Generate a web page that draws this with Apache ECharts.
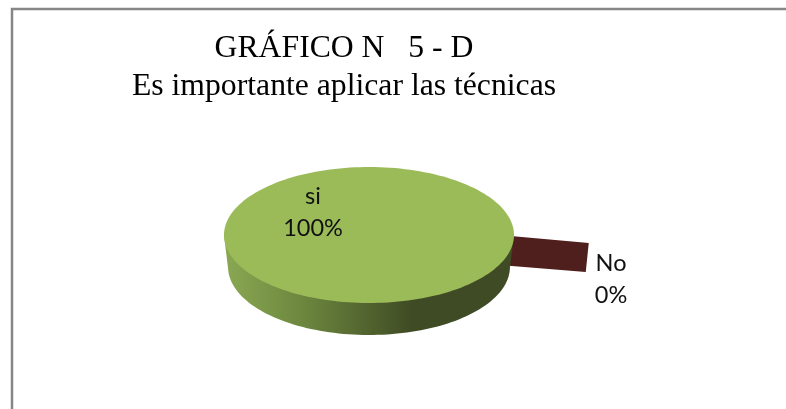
<!DOCTYPE html>
<html>
<head>
<meta charset="utf-8">
<title>Gráfico 5-D</title>
<script src="https://cdn.jsdelivr.net/npm/echarts@6/dist/echarts.min.js"></script>
<style>
  html, body { margin: 0; padding: 0; background: #fff; }
  #chart { width: 786px; height: 409px; }
</style>
</head>
<body>
<div id="chart"></div>
<script>
var titleLines = ['GRÁFICO N   5 - D', 'Es importante aplicar las técnicas']
var sliceNames = ['si', 'No']
var sliceValues = [100, 0]

var chart = echarts.init(document.getElementById('chart'), null, { renderer: 'canvas' })

// pie geometry, flattened to look 3D
var cx = 369
var cy = 235
var rx = 145
var ry = 68
var depth = 32
var bottomScale = 0.972 // far end of the wall is a bit narrower
var firstAngle = 4.4
var total = sliceValues.reduce(function(a, b) { return a + b }, 0)

function point(deg, r) {
  var t = deg * Math.PI / 180
  return [cx + rx * r * Math.cos(t), cy + ry * r * Math.sin(t)]
}

function label(i, x, y) {
  return {
    type: 'text',
    style: {
      x: x,
      y: y,
      text: sliceNames[i] + '\n' + Math.round(sliceValues[i] / total * 100) + '%',
      fill: '#111',
      font: '23.5px Lato',
      lineHeight: 32,
      align: 'center',
      verticalAlign: 'middle'
    }
  }
}

function renderSlice(params, api) {
  var i = api.value(1)
  var before = sliceValues.slice(0, i).reduce(function(a, b) { return a + b }, 0)
  var start = firstAngle + before / total * 360
  var sweep = api.value(0) / total * 360

  // zero share: only the wall of the pulled out slice can be seen
  if (sweep === 0) {
    var inner = point(start - 4.4, 0.9)
    var outer = point(start, 1.52)
    return {
      type: 'group',
      children: [
        {
          type: 'polygon',
          shape: {
            points: [
              inner,
              outer,
              [outer[0] - 3, outer[1] + depth - 3],
              [inner[0], inner[1] + depth - 2]
            ]
          },
          style: { fill: '#4f1f1e' }
        },
        label(i, 611, 279)
      ]
    }
  }

  var top = []
  var lower = []
  for (var a = 0; a <= 360; a += 2) {
    var d = start + sweep * a / 360
    var p = point(d, 1)
    top.push(p)
    if (Math.sin(d * Math.PI / 180) >= 0) {
      lower.push(p)
    }
  }
  lower.sort(function(p, q) { return q[0] - p[0] })
  var side = lower.map(function(p) {
    return [cx + (p[0] - cx) * bottomScale, p[1] + depth]
  })
  // wall runs from the rim on the right, under the pie, to the rim on the left
  side.unshift([cx + rx, cy])
  side.push([cx - rx, cy])

  return {
    type: 'group',
    children: [
      {
        type: 'polygon',
        shape: { points: side },
        style: {
          fill: new echarts.graphic.LinearGradient(0, 0, 1, 0, [
            { offset: 0, color: '#8aa853' },
            { offset: 0.25, color: '#6f8a40' },
            { offset: 0.65, color: '#3f4b24' },
            { offset: 1, color: '#3f4b24' }
          ])
        }
      },
      {
        type: 'polygon',
        shape: { points: top },
        style: { fill: '#9bbb59' }
      },
      label(i, 313, 212)
    ]
  }
}

// smallest share first, so the big slice paints over the wall of the small one
var drawOrder = sliceNames.map(function(n, i) { return i }).sort(function(a, b) {
  return sliceValues[a] - sliceValues[b]
})

chart.setOption({
  animation: false,
  backgroundColor: '#fff',
  title: {
    text: titleLines.join('\n'),
    left: 339,
    top: 25,
    textAlign: 'center',
    textStyle: {
      fontFamily: 'Liberation Serif',
      fontSize: 31.7,
      fontWeight: 'normal',
      color: '#000',
      lineHeight: 38
    }
  },
  graphic: [
    {
      type: 'polyline',
      silent: true,
      shape: { points: [[12, 409], [12, 9], [786, 9]] },
      style: { stroke: '#868686', lineWidth: 2.5, fill: null }
    }
  ],
  series: [
    {
      type: 'custom',
      coordinateSystem: 'none',
      renderItem: renderSlice,
      data: drawOrder.map(function(i) {
        return { name: sliceNames[i], value: [sliceValues[i], i] }
      })
    }
  ]
})
</script>
</body>
</html>
